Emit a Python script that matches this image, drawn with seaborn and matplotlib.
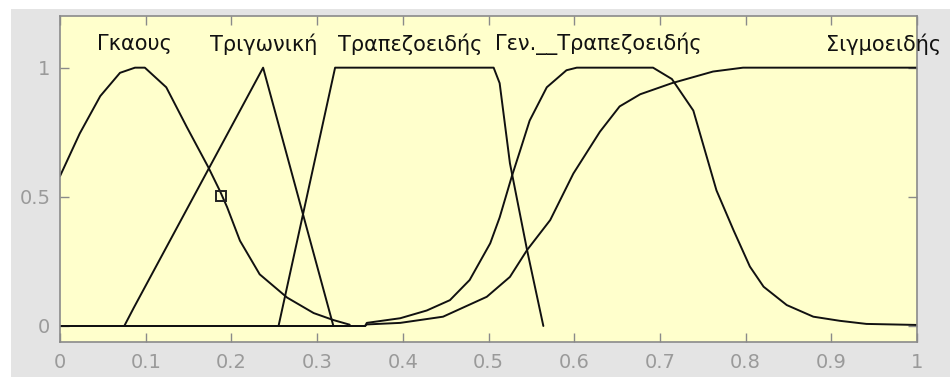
import numpy as np
import pandas as pd
import matplotlib
matplotlib.use('Agg')
import matplotlib.pyplot as plt
import seaborn as sns
from matplotlib.patches import Rectangle

# --- dane ---
gauss_x = [0, 0.023, 0.047, 0.07, 0.0875, 0.099, 0.124, 0.148, 0.173, 0.187,
           0.195, 0.21, 0.233, 0.265, 0.296, 0.319, 0.338]
gauss_y = [0.58, 0.745, 0.89, 0.98, 1.0, 1.0, 0.924, 0.77, 0.615, 0.52,
           0.46, 0.33, 0.2, 0.11, 0.05, 0.023, 0.005]

tri_x = [0, 0.075, 0.086, 0.237, 0.319]
tri_y = [0, 0, 0.07, 1, 0]

trap_x = [0, 0.255, 0.321, 0.506, 0.513, 0.525, 0.545, 0.564]
trap_y = [0, 0, 1, 1, 0.94, 0.63, 0.294, 0]

gbell_x = [0, 0.356, 0.358, 0.397, 0.428, 0.455, 0.478, 0.502, 0.513, 0.527,
           0.537, 0.548, 0.568, 0.591, 0.603, 0.692, 0.714, 0.739, 0.766, 0.786,
           0.805, 0.821, 0.848, 0.879, 0.91, 0.941, 1.0]
gbell_y = [0, 0, 0.012, 0.03, 0.06, 0.1, 0.178, 0.32, 0.42, 0.577,
           0.68, 0.795, 0.924, 0.99, 1.0, 1.0, 0.956, 0.834, 0.525, 0.37,
           0.23, 0.152, 0.081, 0.036, 0.02, 0.008, 0.004]

sig_x = [0, 0.356, 0.358, 0.397, 0.447, 0.498, 0.525, 0.545, 0.572, 0.599,
         0.63, 0.653, 0.677, 0.714, 0.762, 0.797, 1.0]
sig_y = [0, 0, 0.006, 0.012, 0.036, 0.113, 0.19, 0.294, 0.41, 0.59,
         0.752, 0.85, 0.897, 0.94, 0.985, 1.0, 1.0]

labels = ['Γκαους', 'Τριγωνική', 'Τραπεζοειδής', 'Γεν.__Τραπεζοειδής', 'Σιγμοειδής']
label_x = [0.043, 0.175, 0.324, 0.508, 0.894]   # lewe krawędzie napisów

marker_x = [0.188]
marker_y = [0.503]

x_ticks = [0, 0.1, 0.2, 0.3, 0.4, 0.5, 0.6, 0.7, 0.8, 0.9, 1]
x_ticklabels = ['0', '0.1', '0.2', '0.3', '0.4', '0.5', '0.6', '0.7', '0.8', '0.9', '1']
y_ticks = [0, 0.5, 1]
y_ticklabels = ['0', '0.5', '1']

sns.set_style('white', {'axes.facecolor': '#ffffcc', 'axes.edgecolor': '#8a8a8a'})
plt.rcParams['font.family'] = ['DejaVu Sans']

fig = plt.figure(figsize=(9.5, 3.77), dpi=100)
fig.patch.set_facecolor('white')
# szare tło okna MATLABa
fig.patches.append(Rectangle((11 / 950, 0), 1, 1 - 9 / 377, transform=fig.transFigure,
                             facecolor='#e4e4e4', edgecolor='none', zorder=-10))

ax = fig.add_axes([60 / 950, 1 - 342 / 377, 857 / 950, 326 / 377])

curves = [(gauss_x, gauss_y), (tri_x, tri_y), (trap_x, trap_y),
          (gbell_x, gbell_y), (sig_x, sig_y)]
for cx, cy in curves:
    sns.lineplot(x=cx, y=cy, ax=ax, color='#111111', linewidth=1.4,
                 sort=False, estimator=None)

ax.plot(marker_x, marker_y, marker='s', markersize=7, markerfacecolor='none',
        markeredgecolor='#222222', markeredgewidth=1.4, linestyle='none')

for lab, lx in zip(labels, label_x):
    ax.text(lx, 1.092, lab, ha='left', va='center', fontsize=15,
            color='#111111', clip_on=False)

ax.set_xlim(0, 1)
ax.set_ylim(-0.062, 1.2)
ax.set_xticks(x_ticks)
ax.set_xticklabels(x_ticklabels)
ax.set_yticks(y_ticks)
ax.set_yticklabels(y_ticklabels)
ax.tick_params(direction='in', length=6.5, width=1, color='#8a8a8a',
               labelcolor='#9a9a9a', labelsize=14, top=True, right=True,
               bottom=True, left=True)
ax.tick_params(axis='x', pad=8)
ax.tick_params(axis='y', pad=7)
for s in ax.spines.values():
    s.set_linewidth(1.2)
ax.set_xlabel('')
ax.set_ylabel('')

fig.savefig('out.png', dpi=100, facecolor=fig.get_facecolor())
